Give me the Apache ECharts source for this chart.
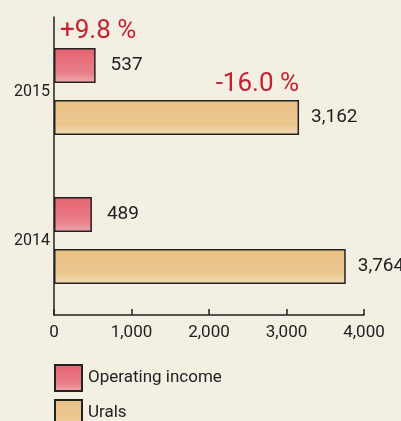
<!DOCTYPE html>
<html>
<head>
<meta charset="utf-8">
<script src="https://cdn.jsdelivr.net/npm/echarts@6/dist/echarts.min.js"></script>
<style>
  html, body { margin: 0; padding: 0; background: #f4efe3; }
  #main { width: 401px; height: 421px; }
</style>
</head>
<body>
<div id="main"></div>
<script>
  // data
  var years = ['2015', '2014'];
  var operatingIncome = [537, 489];
  var urals = [3162, 3764];
  var incomeChange = '+9.8 %';
  var uralsChange = '-16.0 %';
  var xTicks = [0, 1000, 2000, 3000, 4000];

  var font = 'Roboto, "Liberation Sans", sans-serif';
  var ink = '#222';
  var red = '#c8202e';

  var myChart = echarts.init(document.getElementById('main'));

  function fmt(v) {
    return v.toLocaleString('en-US');
  }

  // one legend per row so the two entries stack like the original
  function legendFor(name, top) {
    return {
      left: 54,
      top: top,
      padding: 0,
      itemWidth: 27,
      itemHeight: 26,
      itemGap: 7,
      icon: 'rect',
      textStyle: { fontFamily: font, fontSize: 17, color: ink, padding: [0, 0, 0, 1] },
      data: [name]
    };
  }

  myChart.setOption({
    backgroundColor: '#f4efe3',
    animation: false,
    grid: { left: 54, right: 37, top: 17, bottom: 106 },
    legend: [legendFor('Operating income', 364), legendFor('Urals', 399)],
    xAxis: {
      type: 'value',
      min: xTicks[0],
      max: xTicks[xTicks.length - 1],
      interval: 1000,
      splitLine: { show: false },
      axisLine: { show: true, lineStyle: { color: ink, width: 1.5 } },
      axisTick: { show: true, inside: true, length: 6, lineStyle: { color: ink, width: 1.5 } },
      axisLabel: {
        margin: 9,
        fontFamily: font, fontSize: 17, color: ink,
        formatter: function (v) { return fmt(v); }
      }
    },
    yAxis: {
      type: 'category',
      inverse: true,
      data: years,
      axisLine: { show: true, lineStyle: { color: ink, width: 1.5 } },
      axisTick: { show: false },
      axisLabel: { margin: 4, fontFamily: font, fontSize: 16, color: ink, padding: [4, 0, 0, 0] }
    },
    series: [
      {
        name: 'Operating income',
        type: 'bar',
        barWidth: 35,
        barGap: '48%',
        data: operatingIncome,
        itemStyle: {
          color: new echarts.graphic.LinearGradient(0, 0, 0, 1, [
            { offset: 0, color: '#e6626f' },
            { offset: 0.7, color: '#e97f89' },
            { offset: 1, color: '#f0aab0' }
          ]),
          borderColor: ink,
          borderWidth: 1.5
        },
        label: {
          show: true,
          position: 'right',
          distance: 15,
          fontFamily: font, fontSize: 19, color: ink,
          formatter: function (p) { return fmt(p.value); }
        },
        markPoint: {
          symbolSize: 0,
          data: [{
            coord: [0, years[0]],
            value: incomeChange,
            label: {
              show: true,
              position: 'inside',
              offset: [6, -34],
              align: 'left',
              verticalAlign: 'middle',
              fontFamily: font, fontSize: 26, color: red,
              formatter: incomeChange
            }
          }]
        }
      },
      {
        name: 'Urals',
        type: 'bar',
        barWidth: 35,
        data: urals,
        itemStyle: {
          color: new echarts.graphic.LinearGradient(0, 0, 0, 1, [
            { offset: 0, color: '#e9c185' },
            { offset: 0.7, color: '#ecc891' },
            { offset: 1, color: '#f2dcb8' }
          ]),
          borderColor: ink,
          borderWidth: 1.5
        },
        label: {
          show: true,
          position: 'right',
          distance: 12,
          fontFamily: font, fontSize: 19, color: ink,
          formatter: function (p) { return fmt(p.value); }
        },
        markPoint: {
          symbolSize: 0,
          data: [{
            coord: [urals[0], years[0]],
            value: uralsChange,
            label: {
              show: true,
              position: 'inside',
              offset: [0, -33],
              align: 'right',
              verticalAlign: 'middle',
              fontFamily: font, fontSize: 26, color: red,
              formatter: uralsChange
            }
          }]
        }
      }
    ]
  });
</script>
</body>
</html>
